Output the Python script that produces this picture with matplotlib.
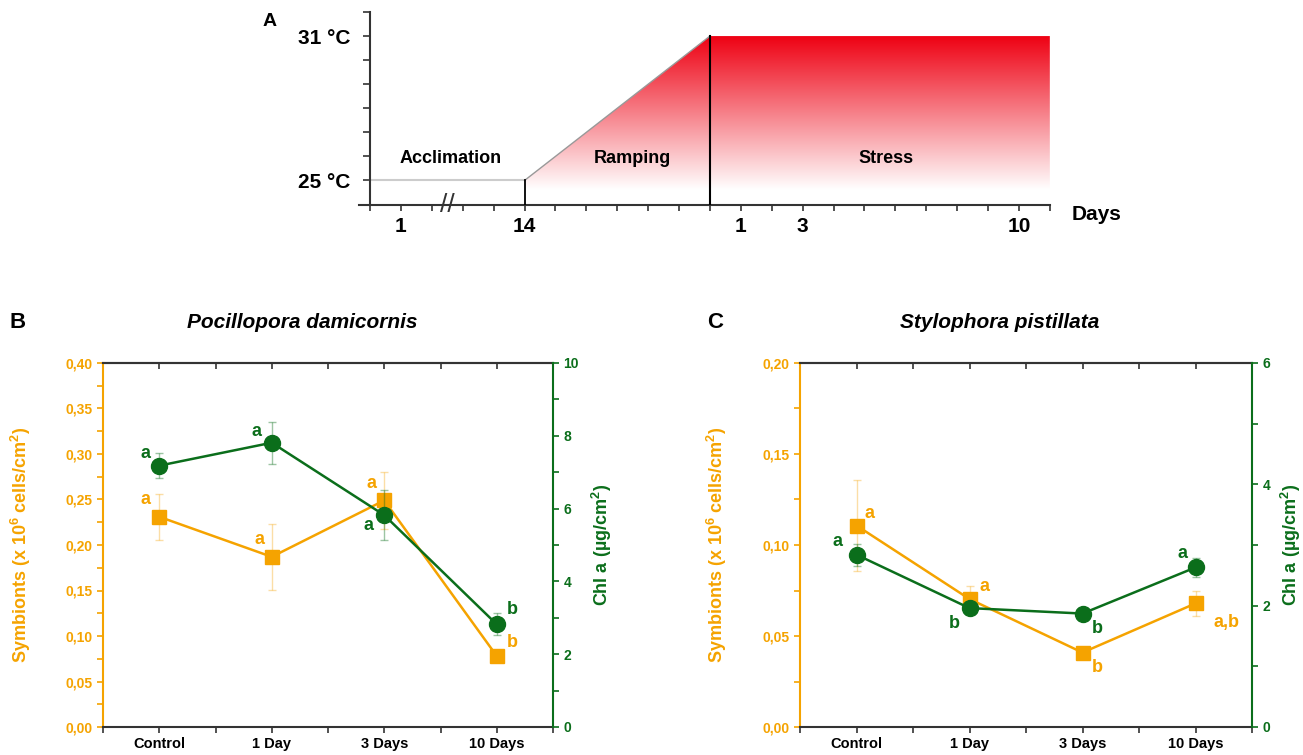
import numpy as np
import matplotlib
matplotlib.use('Agg')
import matplotlib.pyplot as plt
from matplotlib.colors import LinearSegmentedColormap, to_rgba
from matplotlib.patches import Polygon
from matplotlib.ticker import MultipleLocator, FuncFormatter

NARROW = ['Liberation Sans Narrow', 'Liberation Sans', 'DejaVu Sans']
WIDE = ['Liberation Sans', 'DejaVu Sans']
plt.rcParams['font.family'] = NARROW
plt.rcParams['font.weight'] = 'bold'
plt.rcParams['axes.labelweight'] = 'bold'
plt.rcParams['mathtext.fontset'] = 'custom'
plt.rcParams['mathtext.rm'] = 'Liberation Sans:bold'
plt.rcParams['mathtext.bf'] = 'Liberation Sans:bold'
plt.rcParams['mathtext.default'] = 'bf'

ORANGE = '#F5A300'
GREEN = '#0B6E1B'
DARK = '#333333'

# ---- panel A: temperature protocol
temp_low, temp_high = 25, 31
ramp_start, ramp_end, stress_end = 5, 11, 22
day_ticks = [1, 5, 12, 14, 21]
day_labels = ['1', '14', '1', '3', '10']
phases = ['Acclimation', 'Ramping', 'Stress']
phase_x = [2.6, 8.5, 16.7]

# ---- panels B, C
cats = ['Control', '1 Day', '3 Days', '10 Days']

pd_sym = [0.231, 0.187, 0.249, 0.078]
pd_sym_err = [0.025, 0.036, 0.031, 0.003]
pd_chl = [7.18, 7.81, 5.82, 2.82]
pd_chl_err = [0.34, 0.58, 0.69, 0.30]
pd_sym_let = ['a', 'a', 'a', 'b']
pd_chl_let = ['a', 'a', 'a', 'b']

sp_sym = [0.1107, 0.0703, 0.0409, 0.0679]
sp_sym_err = [0.025, 0.007, 0.002, 0.007]
sp_chl = [2.84, 1.96, 1.87, 2.63]
sp_chl_err = [0.18, 0.05, 0.06, 0.15]
sp_sym_let = ['a', 'a', 'b', 'a,b']
sp_chl_let = ['a', 'b', 'b', 'a']

# letter offsets in pixels (dx, dy up)
pd_sym_off = [(-14, 17), (-12, 17), (-13, 17), (16, 14)]
pd_chl_off = [(-14, 12), (-15, 11), (-16, -10), (16, 15)]
sp_sym_off = [(13, 12), (15, 13), (15, -15), (31, -19)]
sp_chl_off = [(-19, 13), (-15, -15), (15, -15), (-13, 14)]

fig = plt.figure(figsize=(13.03, 7.55), dpi=100)

# ================= A =================
axA = fig.add_axes([0.2757, 0.7291, 0.530, 0.255])
axA.set_xlim(-0.35, stress_end)
axA.set_ylim(24, 32)
for s in ['top', 'right']:
    axA.spines[s].set_visible(False)
axA.spines['left'].set_position(('data', 0))
for s in ['left', 'bottom']:
    axA.spines[s].set_color(DARK)
    axA.spines[s].set_linewidth(1.5)

cmap = LinearSegmentedColormap.from_list('heat', ['#FFFFFF', '#EE0012'])
grad = np.linspace(0, 1, 256).reshape(-1, 1)
im = axA.imshow(grad, extent=(ramp_start, stress_end, 24.6, temp_high), origin='lower',
                aspect='auto', cmap=cmap, zorder=1)
poly = Polygon([(ramp_start, 24), (ramp_start, temp_low), (ramp_end, temp_high),
                (stress_end, temp_high), (stress_end, 24)], closed=True,
               facecolor='none', edgecolor='none', transform=axA.transData)
axA.add_patch(poly)
im.set_clip_path(poly)

axA.plot([0, ramp_start], [temp_low, temp_low], color='#CCCCCC', lw=1.5, zorder=2)
axA.plot([ramp_start, ramp_end], [temp_low, temp_high], color='#999999', lw=1, zorder=2)
axA.plot([ramp_start, ramp_start], [24, temp_low], color='black', lw=1.3, zorder=3)
axA.plot([ramp_end, ramp_end], [24, temp_high], color='black', lw=1.5, zorder=3)

axA.set_yticks([temp_low, temp_high], labels=['%d °C' % temp_low, '%d °C' % temp_high])
axA.yaxis.set_minor_locator(MultipleLocator(1))
axA.set_xticks(day_ticks, labels=day_labels)
axA.xaxis.set_minor_locator(MultipleLocator(1))
axA.tick_params(axis='y', which='both', direction='out', length=5, color=DARK, width=1.2,
                labelsize=15, pad=9)
axA.tick_params(axis='x', which='both', direction='out', length=4, color=DARK, width=1.2,
                labelsize=15, pad=5)

for name, px in zip(phases, phase_x):
    axA.text(px, 25.9, name, ha='center', va='center', fontsize=13, zorder=4)
axA.text(2.5, 24, '//', ha='center', va='center', fontsize=19, fontweight='normal',
         color=DARK, zorder=5)
axA.text(23.5, 23.6, 'Days', ha='center', va='center', fontsize=15, family=WIDE,
         clip_on=False)
fig.text(270 / 1303, 1 - 22 / 755, 'A', ha='center', va='center', fontsize=14, family=WIDE)


# ================= B, C =================
def comma(v, pos):
    return ('%.2f' % v).replace('.', ',')


def panel(rect, sym, sym_err, chl, chl_err, sym_let, chl_let, sym_off, chl_off,
          sym_max, chl_max, title, title_x, letter, letter_x, lab_left, lab_right):
    ax = fig.add_axes(rect)
    x = np.arange(len(cats))
    ax.errorbar(x, sym, yerr=sym_err, fmt='none', ecolor=to_rgba(ORANGE, 0.35),
                elinewidth=1, capsize=3, zorder=2)
    ax.plot(x, sym, '-s', color=ORANGE, ms=10, lw=1.8, zorder=3)
    for xi, yi, t, (dx, dy) in zip(x, sym, sym_let, sym_off):
        ax.annotate(t, (xi, yi), xytext=(dx, dy), textcoords='offset pixels',
                    ha='center', va='center', fontsize=13, color=ORANGE, family=WIDE)
    ax.set_xlim(-0.5, 3.5)
    ax.set_ylim(0, sym_max)
    ax.yaxis.set_major_locator(MultipleLocator(0.05))
    ax.yaxis.set_minor_locator(MultipleLocator(0.025))
    ax.yaxis.set_major_formatter(FuncFormatter(comma))
    ax.set_xticks(x, labels=cats)
    ax.xaxis.set_minor_locator(MultipleLocator(0.5))
    ax.tick_params(axis='y', which='both', direction='out', length=4, width=1.2,
                   colors=ORANGE, labelsize=10)
    ax.tick_params(axis='x', which='both', direction='out', length=4, width=1.2,
                   color=DARK, labelsize=10.5)
    ax.spines['left'].set_color(ORANGE)
    ax.spines['right'].set_visible(False)
    for s in ['top', 'bottom']:
        ax.spines[s].set_color(DARK)
    for s in ax.spines.values():
        s.set_linewidth(1.5)
    ax.set_ylabel('Symbionts (x 10$^6$ cells/cm$^2$)', color=ORANGE, fontsize=13,
                  family=WIDE, fontweight='bold')
    ax.yaxis.set_label_coords(lab_left, 0.5)

    top = ax.secondary_xaxis('top')
    top.set_xticks(np.arange(-0.5, 3.6, 0.5))
    top.tick_params(direction='in', length=4, width=1.2, color=DARK, labeltop=False)
    top.spines['top'].set_color(DARK)
    top.spines['top'].set_linewidth(1.5)

    ax2 = ax.twinx()
    ax2.errorbar(x, chl, yerr=chl_err, fmt='none', ecolor=to_rgba(GREEN, 0.4),
                 elinewidth=1, capsize=3, zorder=2)
    ax2.plot(x, chl, '-o', color=GREEN, ms=11.5, lw=1.8, zorder=3)
    for xi, yi, t, (dx, dy) in zip(x, chl, chl_let, chl_off):
        ax2.annotate(t, (xi, yi), xytext=(dx, dy), textcoords='offset pixels',
                     ha='center', va='center', fontsize=13, color=GREEN, family=WIDE)
    ax2.set_ylim(0, chl_max)
    ax2.yaxis.set_major_locator(MultipleLocator(2))
    ax2.yaxis.set_minor_locator(MultipleLocator(1))
    ax2.tick_params(axis='y', which='both', direction='out', length=4, width=1.2,
                    colors=GREEN, labelsize=10)
    for s in ['left', 'top', 'bottom']:
        ax2.spines[s].set_visible(False)
    ax2.spines['right'].set_color(GREEN)
    ax2.spines['right'].set_linewidth(1.5)
    ax2.set_ylabel('Chl a (µg/cm$^2$)', color=GREEN, fontsize=13, family=WIDE,
                   fontweight='bold', rotation=90)
    ax2.yaxis.set_label_coords(lab_right, 0.5)

    fig.text(title_x, 1 - 322 / 755, title, ha='center', va='center', fontsize=15,
             style='italic', family=WIDE)
    fig.text(letter_x, 1 - 323 / 755, letter, ha='center', va='center', fontsize=16,
             family=WIDE)


panel([103 / 1303, 1 - 727 / 755, 450 / 1303, 364 / 755],
      pd_sym, pd_sym_err, pd_chl, pd_chl_err, pd_sym_let, pd_chl_let,
      pd_sym_off, pd_chl_off, 0.40, 10, 'Pocillopora damicornis', 302 / 1303,
      'B', 18 / 1303, -0.155, 1.082)
panel([800 / 1303, 1 - 727 / 755, 452 / 1303, 364 / 755],
      sp_sym, sp_sym_err, sp_chl, sp_chl_err, sp_sym_let, sp_chl_let,
      sp_sym_off, sp_chl_off, 0.20, 6, 'Stylophora pistillata', 1000 / 1303,
      'C', 715 / 1303, -0.157, 1.060)

fig.savefig('out.png', dpi=100)
